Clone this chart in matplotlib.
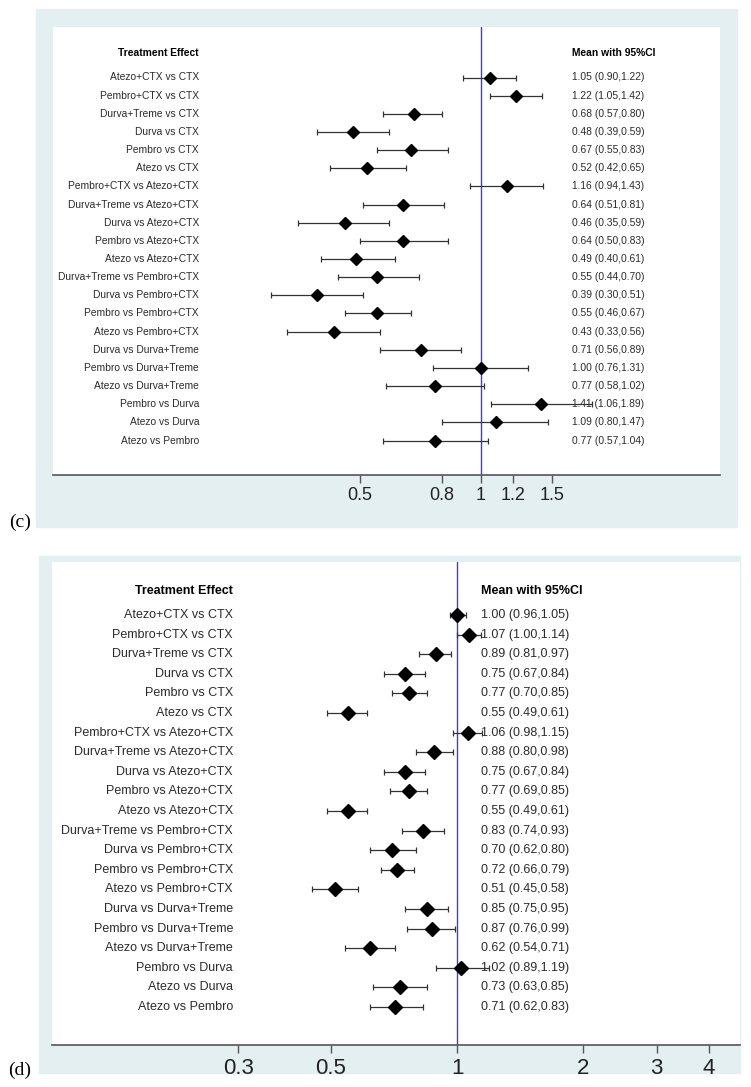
import numpy as np
import matplotlib
matplotlib.use("Agg")
import matplotlib.pyplot as plt
from matplotlib.patches import Rectangle

W, H = 751, 1087

# comparisons (same order in both panels)
labels = ["Atezo+CTX vs CTX", "Pembro+CTX vs CTX", "Durva+Treme vs CTX", "Durva vs CTX",
          "Pembro vs CTX", "Atezo vs CTX", "Pembro+CTX vs Atezo+CTX", "Durva+Treme vs Atezo+CTX",
          "Durva vs Atezo+CTX", "Pembro vs Atezo+CTX", "Atezo vs Atezo+CTX",
          "Durva+Treme vs Pembro+CTX", "Durva vs Pembro+CTX", "Pembro vs Pembro+CTX",
          "Atezo vs Pembro+CTX", "Durva vs Durva+Treme", "Pembro vs Durva+Treme",
          "Atezo vs Durva+Treme", "Pembro vs Durva", "Atezo vs Durva", "Atezo vs Pembro"]

# panel (c)
c_mean = [1.05, 1.22, 0.68, 0.48, 0.67, 0.52, 1.16, 0.64, 0.46, 0.64, 0.49,
          0.55, 0.39, 0.55, 0.43, 0.71, 1.00, 0.77, 1.41, 1.09, 0.77]
c_lo = [0.90, 1.05, 0.57, 0.39, 0.55, 0.42, 0.94, 0.51, 0.35, 0.50, 0.40,
        0.44, 0.30, 0.46, 0.33, 0.56, 0.76, 0.58, 1.06, 0.80, 0.57]
c_hi = [1.22, 1.42, 0.80, 0.59, 0.83, 0.65, 1.43, 0.81, 0.59, 0.83, 0.61,
        0.70, 0.51, 0.67, 0.56, 0.89, 1.31, 1.02, 1.89, 1.47, 1.04]
c_ticks = [0.5, 0.8, 1, 1.2, 1.5]
c_ticklabels = ["0.5", "0.8", "1", "1.2", "1.5"]

# panel (d)
d_mean = [1.00, 1.07, 0.89, 0.75, 0.77, 0.55, 1.06, 0.88, 0.75, 0.77, 0.55,
          0.83, 0.70, 0.72, 0.51, 0.85, 0.87, 0.62, 1.02, 0.73, 0.71]
d_lo = [0.96, 1.00, 0.81, 0.67, 0.70, 0.49, 0.98, 0.80, 0.67, 0.69, 0.49,
        0.74, 0.62, 0.66, 0.45, 0.75, 0.76, 0.54, 0.89, 0.63, 0.62]
d_hi = [1.05, 1.14, 0.97, 0.84, 0.85, 0.61, 1.15, 0.98, 0.84, 0.85, 0.61,
        0.93, 0.80, 0.79, 0.58, 0.95, 0.99, 0.71, 1.19, 0.85, 0.83]
d_ticks = [0.3, 0.5, 1, 2, 3, 4]
d_ticklabels = ["0.3", "0.5", "1", "2", "3", "4"]

BOX = "#e3eff1"
TXT = "#2b2b2b"
plt.rcParams["font.family"] = ["Liberation Sans", "DejaVu Sans"]

fig = plt.figure(figsize=(W / 100, H / 100), dpi=100)


def fx(px):
    return px / W


def fy(py):
    return 1 - py / H


def panel(mean, lo, hi, ticks, ticklabels, tag, outer, inner, xref, scale,
          row0, step, head_y, lab_x, val_x, fs, tfs, ms, tag_xy):
    ol, ot, orr, ob = outer
    fig.patches.append(Rectangle((fx(ol), fy(ob)), fx(orr - ol), (ob - ot) / H,
                                 transform=fig.transFigure, color=BOX, zorder=-10))
    il, it, ir, ib = inner
    ax = fig.add_axes([fx(il), fy(ib), fx(ir - il), (ib - it) / H])
    ax.set_zorder(5)
    ax.set_facecolor("white")
    ax.set_xscale("log")
    ax.set_xlim(np.exp((il - xref) / scale), np.exp((ir - xref) / scale))
    ax.set_ylim((ib - row0) / step, (it - row0) / step)

    mean = np.array(mean)
    y = np.arange(len(mean))
    err = [mean - np.array(lo), np.array(hi) - mean]
    ax.axvline(1, color="#3a3aff", lw=1, zorder=1)
    ax.errorbar(mean, y, xerr=err, fmt="D", color="black", ms=ms, ecolor="#333333",
                elinewidth=0.9, capsize=2, capthick=0.9, zorder=3)

    tr = ax.get_yaxis_transform()
    fl = (lab_x - il) / (ir - il)
    fv = (val_x - il) / (ir - il)
    hy = (head_y - row0) / step
    ax.text(fl, hy, "Treatment Effect", transform=tr, ha="right", va="center",
            fontsize=fs, fontweight="bold", color="black")
    ax.text(fv, hy, "Mean with 95%CI", transform=tr, ha="left", va="center",
            fontsize=fs, fontweight="bold", color="black")
    for i in range(len(mean)):
        ax.text(fl, i, labels[i], transform=tr, ha="right", va="center",
                fontsize=fs, color=TXT)
        ax.text(fv, i, f"{mean[i]:.2f} ({lo[i]:.2f},{hi[i]:.2f})", transform=tr,
                ha="left", va="center", fontsize=fs, color=TXT, zorder=2)

    for s in ["top", "left", "right"]:
        ax.spines[s].set_visible(False)
    ax.spines["bottom"].set_color("#555555")
    ax.spines["bottom"].set_linewidth(1.2)
    ax.set_yticks([])
    ax.set_xticks(ticks)
    ax.set_xticklabels(ticklabels)
    ax.xaxis.set_minor_locator(matplotlib.ticker.NullLocator())
    ax.tick_params(axis="x", direction="out", length=6, width=1, color="#555555",
                   labelsize=tfs, labelcolor="#222222", pad=3)

    fig.text(fx(tag_xy[0]), fy(tag_xy[1]), tag, ha="center", va="center",
             fontsize=14, family=["Liberation Serif", "DejaVu Serif"])
    return ax


panel(c_mean, c_lo, c_hi, c_ticks, c_ticklabels, "(c)",
      outer=(36, 9, 737, 527), inner=(53, 27, 720, 475), xref=481, scale=174.6,
      row0=77.5, step=18.15, head_y=53, lab_x=199, val_x=572, fs=7.4, tfs=13,
      ms=6, tag_xy=(20, 522))

panel(d_mean, d_lo, d_hi, d_ticks, d_ticklabels, "(d)",
      outer=(39, 556, 740, 1073), inner=(52, 562, 740, 1045), xref=457, scale=181.8,
      row0=615, step=19.6, head_y=591, lab_x=233, val_x=481, fs=9, tfs=16,
      ms=7, tag_xy=(20, 1070))

fig.savefig("out.png", dpi=100)
